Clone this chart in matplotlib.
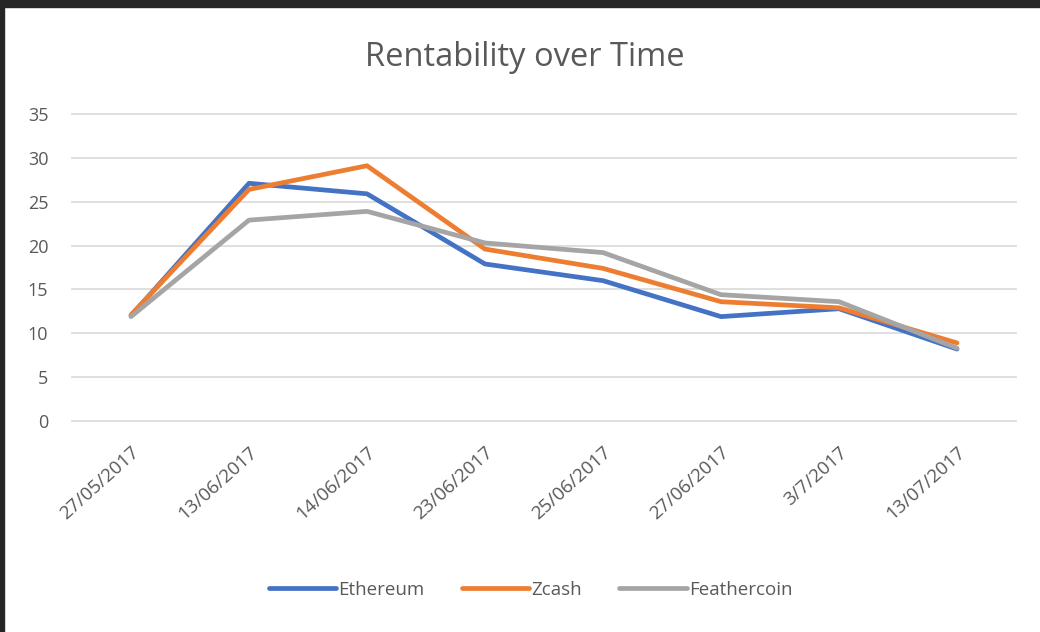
import matplotlib
matplotlib.use("Agg")
import matplotlib.pyplot as plt
from matplotlib.patches import Rectangle

plt.rcParams['font.family'] = ['Open Sans', 'DejaVu Sans']

dates = ["27/05/2017", "13/06/2017", "14/06/2017", "23/06/2017",
         "25/06/2017", "27/06/2017", "3/7/2017", "13/07/2017"]
ethereum = [12.0, 27.1, 25.9, 17.9, 16.0, 11.9, 12.8, 8.2]
zcash = [12.1, 26.4, 29.1, 19.6, 17.4, 13.6, 12.9, 8.9]
feathercoin = [11.9, 22.9, 23.9, 20.3, 19.2, 14.4, 13.6, 8.3]

txt = '#595959'

fig = plt.figure(figsize=(10.4, 6.32), dpi=100)
fig.patch.set_facecolor('white')
# dark screenshot frame (top and left)
fig.patches.append(Rectangle((0, 1 - 7 / 632), 1, 7 / 632, transform=fig.transFigure,
                             color='#262626', zorder=-1))
fig.patches.append(Rectangle((0, 0), 4 / 1040, 1, transform=fig.transFigure,
                             color='#262626', zorder=-1))

ax = fig.add_axes([72 / 1040, 1 - 421 / 632, 944 / 1040, 307 / 632])
x = range(len(dates))
ax.plot(x, ethereum, color='#4472C4', lw=3.4, label='Ethereum', solid_capstyle='round')
ax.plot(x, zcash, color='#ED7D31', lw=3.4, label='Zcash', solid_capstyle='round')
ax.plot(x, feathercoin, color='#A5A5A5', lw=3.4, label='Feathercoin', solid_capstyle='round')

ax.set_xlim(-0.5, len(dates) - 0.5)
ax.set_ylim(0, 35)
ax.set_yticks(range(0, 36, 5))
ax.yaxis.grid(True, color='#D9D9D9', lw=1.2)
for gl in ax.get_ygridlines():
    gl.set_clip_on(False)
ax.set_axisbelow(True)
for s in ax.spines.values():
    s.set_visible(False)
ax.tick_params(axis='both', length=0, colors=txt, labelsize=13)
ax.tick_params(axis='y', pad=17)
ax.set_xticks(list(x))
ax.set_xticklabels(dates, rotation=42, ha='right', rotation_mode='anchor', color=txt,
                   fontsize=13.5)
ax.tick_params(axis='x', pad=16)

fig.text(0.505, 1 - 58 / 632, 'Rentability over Time', ha='center', va='center',
         fontsize=23.5, color=txt)

fig.legend(loc='center', bbox_to_anchor=(0.51, 1 - 590 / 632), ncol=3, frameon=False,
           fontsize=13.5, handlelength=3.6, handletextpad=0.1, columnspacing=2.0,
           labelcolor=txt)

fig.savefig('out.png', dpi=100)
